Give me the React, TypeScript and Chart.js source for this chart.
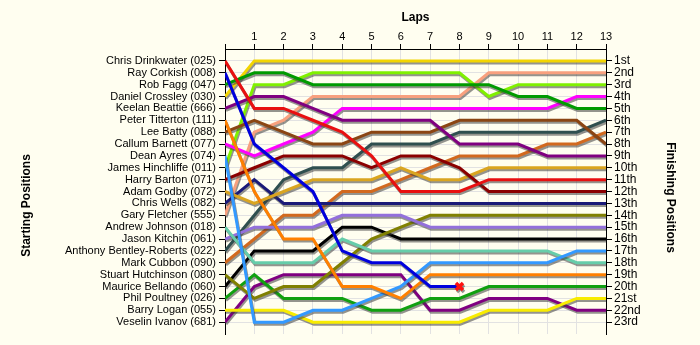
import React, { useEffect, useRef } from 'react';
import { Chart, registerables } from 'chart.js';

Chart.register(...registerables);

// ---- data ----
const lapNumbers = [0, 1, 2, 3, 4, 5, 6, 7, 8, 9, 10, 11, 12, 13];

const startingLabels = [
  'Chris Drinkwater (025)',
  'Ray Corkish (008)',
  'Rob Fagg (047)',
  'Daniel Crossley (030)',
  'Keelan Beattie (666)',
  'Peter Titterton (111)',
  'Lee Batty (088)',
  'Callum Barnett (077)',
  'Dean Ayres (074)',
  'James Hinchliffe (011)',
  'Harry Barton (071)',
  'Adam Godby (072)',
  'Chris Wells (082)',
  'Gary Fletcher (555)',
  'Andrew Johnson (018)',
  'Jason Kitchin (061)',
  'Anthony Bentley-Roberts (022)',
  'Mark Cubbon (090)',
  'Stuart Hutchinson (080)',
  'Maurice Bellando (060)',
  'Phil Poultney (026)',
  'Barry Logan (055)',
  'Veselin Ivanov (681)',
];

const finishingLabels = [
  '1st', '2nd', '3rd', '4th', '5th', '6th', '7th', '8th', '9th', '10th', '11th', '12th',
  '13th', '14th', '15th', '16th', '17th', '18th', '19th', '20th', '21st', '22nd', '23rd',
];

const lineColors = [
  '#E81010', '#0000DD', '#009A00', '#F2D400', '#800080', '#FF8000', '#8B4513', '#FF00FF',
  '#3399FF', '#80F000', '#8B0000', '#DAA520', '#1A1A78', '#F8A07E', '#66CDAA', '#9370DB',
  '#2F4F4F', '#D2691E', '#808000', '#000000', '#10A010', '#F8EC00', '#800080',
];

// positions at laps 0..13
const pos025 = [1, 5, 5, 6, 7, 9, 12, 12, 12, 11, 11, 11, 11, 11];
const pos008 = [2, 8, 10, 12, 17, 18, 18, 20, 20];
const pos047 = [3, 2, 2, 3, 3, 3, 3, 3, 3, 3, 4, 4, 5, 5];
const pos030 = [4, 1, 1, 1, 1, 1, 1, 1, 1, 1, 1, 1, 1, 1];
const pos666 = [5, 4, 4, 5, 6, 6, 6, 6, 8, 8, 8, 9, 9, 9];
const pos111 = [6, 12, 16, 16, 20, 20, 21, 19, 19, 19, 19, 19, 19, 19];
const pos088 = [7, 6, 7, 8, 8, 7, 7, 7, 6, 6, 6, 6, 6, 8];
const pos077 = [8, 9, 8, 7, 5, 5, 5, 5, 5, 5, 5, 5, 4, 4];
const pos074 = [9, 23, 23, 22, 22, 21, 20, 18, 18, 18, 18, 18, 17, 17];
const pos011 = [10, 3, 3, 2, 2, 2, 2, 2, 2, 4, 3, 3, 3, 3];
const pos071 = [11, 10, 9, 9, 9, 10, 9, 9, 10, 12, 12, 12, 12, 12];
const pos072 = [12, 13, 12, 11, 11, 11, 10, 11, 11, 10, 10, 10, 10, 10];
const pos082 = [13, 11, 13, 13, 13, 13, 13, 13, 13, 13, 13, 13, 13, 13];
const pos555 = [14, 7, 6, 4, 4, 4, 4, 4, 4, 2, 2, 2, 2, 2];
const pos018 = [15, 18, 18, 18, 16, 17, 17, 17, 17, 17, 17, 17, 18, 18];
const pos061 = [16, 15, 15, 15, 14, 14, 14, 15, 15, 15, 15, 15, 15, 15];
const pos022 = [17, 14, 11, 10, 10, 8, 8, 8, 7, 7, 7, 7, 7, 6];
const pos090 = [18, 16, 14, 14, 12, 12, 11, 10, 9, 9, 9, 8, 8, 7];
const pos080 = [19, 21, 20, 20, 18, 16, 15, 14, 14, 14, 14, 14, 14, 14];
const pos060 = [20, 17, 17, 17, 15, 15, 16, 16, 16, 16, 16, 16, 16, 16];
const pos026 = [21, 19, 21, 21, 21, 22, 22, 21, 21, 20, 20, 20, 20, 20];
const pos055 = [22, 22, 22, 23, 23, 23, 23, 23, 23, 22, 22, 22, 21, 21];
const pos681 = [23, 20, 19, 19, 19, 19, 19, 22, 22, 21, 21, 21, 22, 22];

const driverPositions = [
  pos025, pos008, pos047, pos030, pos666, pos111, pos088, pos077, pos074, pos011, pos071, pos072,
  pos082, pos555, pos018, pos061, pos022, pos090, pos080, pos060, pos026, pos055, pos681,
];

const retiredDrivers = [1]; // Ray Corkish retired after lap 8

const axisTitles = { top: 'Laps', left: 'Starting Positions', right: 'Finishing Positions' };

// ---- styling ----
const FONT = '"Liberation Sans", Arial, sans-serif';
const BG = '#FFFEF0';
const GRID = '#E2E2E2';

const bgPlugin = {
  id: 'bgFill',
  beforeDraw(chart: any) {
    const ctx = chart.ctx;
    ctx.save();
    ctx.fillStyle = BG;
    ctx.fillRect(0, 0, chart.width, chart.height);
    ctx.restore();
  },
};

const shadowPlugin = {
  id: 'lineShadow',
  beforeDatasetsDraw(chart: any) {
    const ctx = chart.ctx;
    ctx.save();
    ctx.shadowColor = 'rgba(60,60,60,0.55)';
    ctx.shadowOffsetX = 1;
    ctx.shadowOffsetY = 2;
    ctx.shadowBlur = 0;
  },
  afterDatasetsDraw(chart: any) {
    chart.ctx.restore();
  },
};

// vertical axis titles, placed like the original (slightly below the plot centre)
const sideTitlesPlugin = {
  id: 'sideTitles',
  afterDraw(chart: any) {
    const ctx = chart.ctx;
    const { top, bottom } = chart.chartArea;
    const mid = (top + bottom) / 2;
    ctx.save();
    ctx.fillStyle = '#000';
    ctx.font = `bold 12px ${FONT}`;
    ctx.textAlign = 'center';
    ctx.textBaseline = 'middle';
    ctx.save();
    ctx.translate(27, mid + 14);
    ctx.rotate(-Math.PI / 2);
    ctx.fillText(axisTitles.left, 0, 0);
    ctx.restore();
    ctx.save();
    ctx.translate(chart.width - 30, mid + 6);
    ctx.rotate(Math.PI / 2);
    ctx.fillText(axisTitles.right, 0, 0);
    ctx.restore();
    ctx.restore();
  },
};

export default function App() {
  const canvasRef = useRef<HTMLCanvasElement | null>(null);

  useEffect(() => {
    document.body.style.margin = '0';
    document.body.style.background = BG;
    const canvas = canvasRef.current;
    if (!canvas) return;

    const datasets = driverPositions.map((positions, i) => {
      const retired = retiredDrivers.includes(i);
      const last = positions.length - 1;
      return {
        label: startingLabels[i],
        data: positions.map((p, lap) => ({ x: lapNumbers[lap], y: p })),
        borderColor: lineColors[i],
        backgroundColor: lineColors[i],
        borderWidth: 3,
        tension: 0,
        fill: false,
        yAxisID: 'y',
        pointStyle: 'crossRot',
        pointRadius: (ctx: any) => (retired && ctx.dataIndex === last ? 5 : 0),
        pointBorderColor: '#FF1010',
        pointBorderWidth: 3.5,
        pointHoverRadius: 0,
      };
    });

    const chart = new Chart(canvas, {
      type: 'line',
      data: { datasets },
      plugins: [bgPlugin, shadowPlugin, sideTitlesPlugin],
      options: {
        responsive: false,
        animation: false,
        events: [],
        layout: { padding: { top: 0, bottom: 11, left: 0, right: 0 } },
        plugins: {
          legend: { display: false },
          tooltip: { enabled: false },
        },
        scales: {
          x: {
            type: 'linear',
            position: 'top',
            min: 0,
            max: 13,
            afterBuildTicks: (s: any) => {
              s.ticks = lapNumbers.map((v) => ({ value: v }));
            },
            afterFit: (s: any) => {
              s.height = 49;
            },
            ticks: {
              autoSkip: false,
              maxRotation: 0,
              callback: (v: any) => (v === 0 ? '' : String(v)),
              color: '#000',
              font: { family: FONT, size: 11 },
              padding: 0,
            },
            grid: { color: GRID, tickColor: '#000', tickLength: 5, lineWidth: 1 },
            border: { display: true, color: '#000', width: 1 },
            title: {
              display: true,
              text: axisTitles.top,
              color: '#000',
              font: { family: FONT, size: 12, weight: 'bold' },
              padding: { top: 10, bottom: 0 },
            },
          },
          y: {
            type: 'linear',
            position: 'left',
            reverse: true,
            min: 0,
            max: 24,
            afterBuildTicks: (s: any) => {
              s.ticks = startingLabels.map((_, i) => ({ value: i + 1 }));
            },
            afterFit: (s: any) => {
              s.width = 225;
            },
            ticks: {
              autoSkip: false,
              callback: (v: any) => startingLabels[v - 1] ?? '',
              color: '#000',
              font: { family: FONT, size: 11 },
              padding: 3,
            },
            grid: { color: GRID, tickColor: '#000', tickLength: 6, lineWidth: 1 },
            border: { display: true, color: '#000', width: 1 },
            title: { display: false },
          },
          y2: {
            type: 'linear',
            position: 'right',
            reverse: true,
            min: 0,
            max: 24,
            afterBuildTicks: (s: any) => {
              s.ticks = finishingLabels.map((_, i) => ({ value: i + 1 }));
            },
            afterFit: (s: any) => {
              s.width = 94;
            },
            ticks: {
              autoSkip: false,
              callback: (v: any) => finishingLabels[v - 1] ?? '',
              color: '#000',
              font: { family: FONT, size: 12 },
              padding: 2,
            },
            grid: { drawOnChartArea: false, tickColor: '#000', tickLength: 6 },
            border: { display: true, color: '#000', width: 1 },
            title: { display: false },
          },
        },
      } as any,
    });

    return () => {
      chart.destroy();
    };
  }, []);

  return (
    <div style={{ width: 700, height: 345, background: BG }}>
      <canvas ref={canvasRef} width={700} height={345} style={{ display: 'block' }} />
    </div>
  );
}
